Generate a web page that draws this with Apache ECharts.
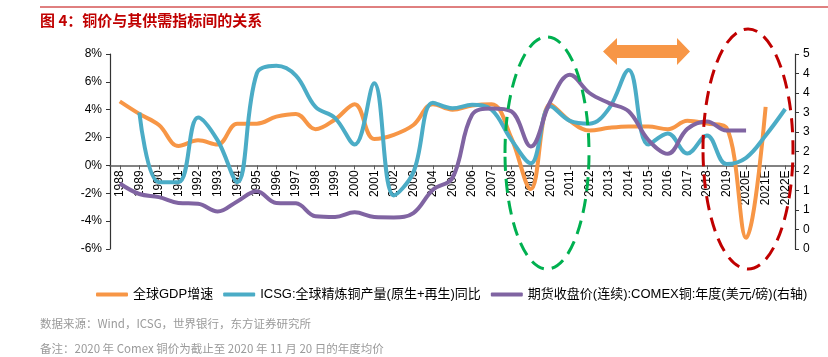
<!DOCTYPE html>
<html>
<head>
<meta charset="utf-8">
<script src="https://cdn.jsdelivr.net/npm/echarts@6/dist/echarts.min.js"></script>
<style>
html,body{margin:0;padding:0;background:#fff;}
#c{width:828px;height:357px;}
</style>
</head>
<body>
<div id="c"></div>
<script>
const years = ['1988','1989','1990','1991','1992','1993','1994','1995','1996','1997','1998','1999','2000','2001','2002','2003','2004','2005','2006','2007','2008','2009','2010','2011','2012','2013','2014','2015','2016','2017','2018','2019','2020E','2021E','2022E'];
const gdpGrowth = [4.6, 3.7, 2.9, 1.4, 1.8, 1.5, 3.0, 3.0, 3.5, 3.7, 2.6, 3.3, 4.4, 1.9, 2.2, 2.9, 4.4, 4.0, 4.3, 4.4, 2.0, -1.7, 4.4, 3.2, 2.5, 2.7, 2.8, 2.8, 2.6, 3.2, 3.0, 2.7, -5.2, 4.2, null];
const icsgOutput = [null, 3.8, -1.2, -1.2, 3.45, 1.8, -1.2, 6.6, 7.15, 6.45, 4.2, 3.4, 1.5, 5.9, -2.15, -0.5, 4.5, 4.1, 4.35, 4.0, 1.85, 0.15, 4.25, 3.2, 3.0, 4.1, 6.85, 1.5, 2.3, 0.85, 2.15, 0.1, 0.55, 2.15, 4.05];
const comexCopper = [1.68, 1.41, 1.33, 1.18, 1.16, 0.96, 1.22, 1.48, 1.18, 1.17, 0.84, 0.82, 0.94, 0.82, 0.81, 0.92, 1.52, 1.82, 3.44, 3.6, 3.53, 2.63, 3.78, 4.47, 4.0, 3.74, 3.53, 2.8, 2.44, 3.08, 3.27, 3.04, 3.04, null, null];
const seriesNames = ['全球GDP增速', 'ICSG:全球精炼铜产量(原生+再生)同比', '期货收盘价(连续):COMEX铜:年度(美元/磅)(右轴)'];
const leftTicks = {min: -6, max: 8, interval: 2};
const rightTicks = {min: 0, max: 5, interval: 0.5};

const FONT = '"Liberation Sans", Arial, "Noto Sans CJK SC", sans-serif';
const chart = echarts.init(document.getElementById('c'), null, {renderer: 'canvas'});
const smoothVal = 0.38;
const GRID = {left: 110, right: 33, top: 54, bottom: 108};
const option = {
  animation: false,
  textStyle: {fontFamily: FONT},
  grid: Object.assign({containLabel: false}, GRID),
  legend: {
    top: 283, left: 91,
    itemWidth: 32, itemHeight: 4, itemGap: 10,
    icon: 'roundRect',
    textStyle: {fontSize: 13, color: '#000', fontFamily: FONT},
    data: seriesNames
  },
  xAxis: {
    type: 'category', data: years, boundaryGap: true,
    axisLine: {onZero: false, lineStyle: {color: '#595959', width: 1.5}},
    axisTick: {show: true, alignWithLabel: true, length: 4, lineStyle: {color: '#595959'}},
    axisLabel: {interval: 0, rotate: 90, margin: 5, fontSize: 12, color: '#000', fontFamily: FONT},
    splitLine: {show: false}
  },
  yAxis: [
    {
      type: 'value', min: leftTicks.min, max: leftTicks.max, interval: leftTicks.interval,
      axisLine: {show: true, lineStyle: {color: '#333', width: 1.2}},
      axisTick: {show: true, length: 4, lineStyle: {color: '#333'}},
      axisLabel: {formatter: v => v + '%', fontSize: 12, color: '#000', margin: 8, fontFamily: FONT},
      splitLine: {show: false}
    },
    {
      type: 'value', position: 'right', min: rightTicks.min, max: rightTicks.max, interval: rightTicks.interval,
      axisLine: {show: true, lineStyle: {color: '#333', width: 1.2}},
      axisTick: {show: true, length: 4, lineStyle: {color: '#333'}},
      axisLabel: {formatter: v => String(Math.floor(v)), fontSize: 12, color: '#000', margin: 8, fontFamily: FONT},
      splitLine: {show: false}
    }
  ],
  series: [
    {name: seriesNames[0], type: 'line', data: gdpGrowth, yAxisIndex: 0, smooth: smoothVal, symbol: 'none',
     lineStyle: {color: '#F79646', width: 4}, itemStyle: {color: '#F79646'}, z: 3},
    {name: seriesNames[1], type: 'line', data: icsgOutput, yAxisIndex: 0, smooth: smoothVal, symbol: 'none',
     lineStyle: {color: '#4BACC6', width: 4}, itemStyle: {color: '#4BACC6'}, z: 4},
    {name: seriesNames[2], type: 'line', data: comexCopper, yAxisIndex: 1, smooth: smoothVal, symbol: 'none',
     lineStyle: {color: '#8064A2', width: 4}, itemStyle: {color: '#8064A2'}, z: 5}
  ],
  graphic: [
    {type: 'line', shape: {x1: 40, y1: 7, x2: 828, y2: 7}, style: {stroke: '#C00000', lineWidth: 1}},
    {type: 'text', left: 40, top: 13, style: {text: '图 4：铜价与其供需指标间的关系', fill: '#C00000', font: 'bold 15px "Noto Sans CJK SC", sans-serif'}},
    {type: 'ellipse', z: 100, shape: {cx: 547, cy: 153, rx: 42, ry: 116}, style: {fill: null, stroke: '#00B050', lineWidth: 3, lineDash: [14, 8]}},
    {type: 'ellipse', z: 100, shape: {cx: 748, cy: 149, rx: 45, ry: 120}, style: {fill: null, stroke: '#C00000', lineWidth: 3, lineDash: [14, 8]}},
    {type: 'polygon', z: 100, shape: {points: [[603,51.5],[617,38],[617,45],[677,45],[677,38],[690,51.5],[677,65],[677,58],[617,58],[617,65]]}, style: {fill: '#F79646'}},
    {type: 'text', left: 40, top: 318, style: {text: '数据来源：Wind，ICSG，世界银行，东方证券研究所', fill: '#9a9a9a', font: '11.5px "Noto Sans CJK SC", sans-serif'}},
    {type: 'text', left: 40, top: 343, style: {text: '备注：2020 年 Comex 铜价为截止至 2020 年 11 月 20 日的年度均价', fill: '#9a9a9a', font: '11.5px "Noto Sans CJK SC", sans-serif'}}
  ]
};
chart.setOption(option);
// move the category axis up to the 0% line of the left axis
const zeroY = chart.convertToPixel({yAxisIndex: 0}, 0);
const bottomY = chart.getHeight() - GRID.bottom;
chart.setOption({xAxis: {offset: zeroY - bottomY}});
</script>
</body>
</html>
